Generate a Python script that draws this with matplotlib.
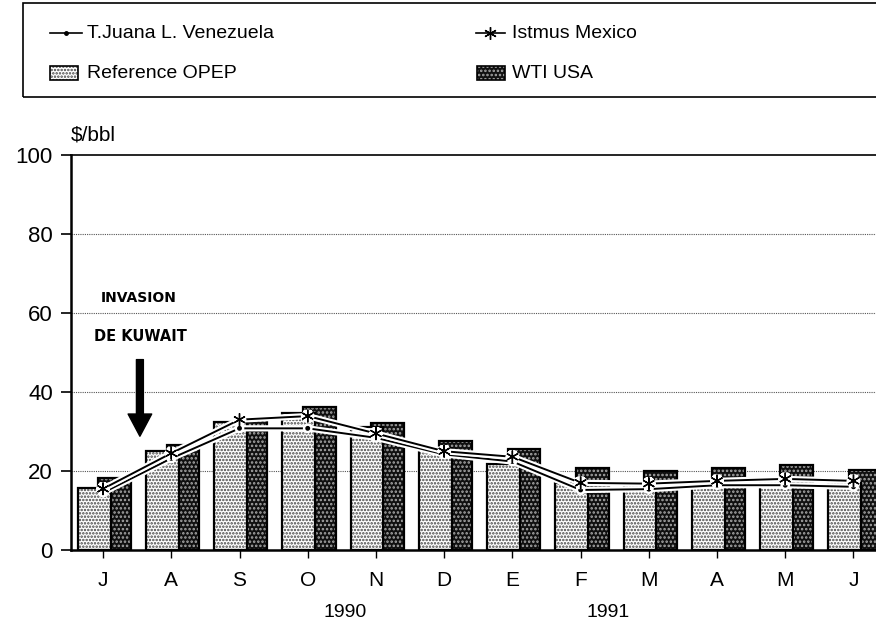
import numpy as np
import matplotlib
matplotlib.use("Agg")
from matplotlib import pyplot as plt
from matplotlib.patches import Rectangle
from matplotlib.lines import Line2D
import matplotlib.patheffects as pe
import matplotlib.transforms as mtransforms

months = ['J', 'A', 'S', 'O', 'N', 'D', 'E', 'F', 'M', 'A', 'M', 'J']
years = ['1990', '1991']
year_pos = [3.55, 7.4]

reference_opep = [15.8, 25.1, 32.4, 34.8, 31.2, 25.9, 21.7, 17.0, 17.0, 17.5, 17.9, 17.2]
wti_usa = [18.3, 26.5, 32.9, 36.2, 32.2, 27.6, 25.5, 20.7, 20.0, 20.8, 21.4, 20.3]
istmus_mexico = [15.5, 24.5, 33.0, 33.9, 29.5, 25.0, 23.6, 17.0, 16.8, 17.5, 18.0, 17.5]
tijuana_venezuela = [14.5, 23.2, 30.8, 30.8, 28.4, 24.2, 22.4, 15.2, 15.4, 16.4, 16.4, 16.0]

plt.rcParams['font.family'] = ['Liberation Sans', 'DejaVu Sans']
plt.rcParams['hatch.linewidth'] = 1.2

W, H = 876, 622
fig = plt.figure(figsize=(W / 100, H / 100), dpi=100)
ax = fig.add_axes([71 / W, 1 - 550 / H, 1 - 71 / W, 395 / H])

x = np.arange(len(months))
bw = 0.48

# WTI behind, OPEP in front
ax.bar(x + 0.17, wti_usa, bw, facecolor='#101010', edgecolor='#a8a8a8',
       hatch='....', linewidth=0, zorder=2)
ax.bar(x + 0.17, wti_usa, bw, fill=False, edgecolor='black', linewidth=1.6, zorder=2.1)
ax.bar(x - 0.13, reference_opep, bw, facecolor='white', edgecolor='#444444',
       hatch='.....', linewidth=0, zorder=3)
ax.bar(x - 0.13, reference_opep, bw, fill=False, edgecolor='black', linewidth=1.6, zorder=3.1)

halo = [pe.withStroke(linewidth=4.5, foreground='white')]
ax.plot(x, tijuana_venezuela, color='black', lw=1.4, marker='.', ms=5,
        path_effects=halo, zorder=5)
ax.plot(x, istmus_mexico, color='black', lw=1.4, marker=(6, 2, 0), ms=9,
        path_effects=halo, zorder=5)

ax.set_xlim(-0.47, 11.33)
ax.set_ylim(0, 100)
ax.set_yticks([0, 20, 40, 60, 80, 100])
ax.set_xticks(x)
ax.set_xticklabels(months)
ax.tick_params(axis='y', direction='out', length=7, width=1.2, pad=6, labelsize=16)
ax.tick_params(axis='x', direction='out', length=6, width=1.0, pad=9, labelsize=15)
for yv in [20, 40, 60, 80]:
    ax.axhline(yv, color='#555555', lw=0.8, ls=(0, (1, 1)), zorder=1)
ax.spines['right'].set_visible(False)
ax.spines['top'].set_linewidth(1.2)
ax.spines['left'].set_linewidth(1.8)
ax.spines['bottom'].set_linewidth(1.8)

trans = mtransforms.blended_transform_factory(ax.transData, ax.transAxes)
for yr, xp in zip(years, year_pos):
    ax.text(xp, -0.157, yr, transform=trans, ha='center', va='center', fontsize=14)

ax.text(0, 1.05, '$/bbl', transform=ax.transAxes, ha='left', va='center', fontsize=15)

ax.text(0.52, 63.8, 'INVASION', ha='center', va='center', fontsize=10,
        fontweight='bold', family='DejaVu Sans', zorder=6)
ax.text(0.55, 54.0, 'DE KUWAIT', ha='center', va='center', fontsize=10.5,
        fontweight='bold', family='DejaVu Sans', zorder=6)
ax.annotate('', xy=(0.54, 28.8), xytext=(0.54, 48.2),
            arrowprops=dict(facecolor='black', edgecolor='black', width=5,
                            headwidth=17, headlength=16), zorder=6)

# legend box drawn by hand, it runs off the right edge
fig.patches.append(Rectangle((23 / W, 1 - 97 / H), 1.0, 94 / H, transform=fig.transFigure,
                             fill=False, edgecolor='black', linewidth=1.2))
r1, r2 = 1 - 33 / H, 1 - 73 / H
fig.lines.append(Line2D([50 / W, 82 / W], [r1, r1], color='black', lw=1.2,
                        transform=fig.transFigure))
fig.lines.append(Line2D([66 / W], [r1], color='black', marker='.', ms=5,
                        transform=fig.transFigure))
fig.text(87 / W, r1, 'T.Juana L. Venezuela', va='center', fontsize=14)
fig.lines.append(Line2D([476 / W, 505 / W], [r1, r1], color='black', lw=1.2,
                        transform=fig.transFigure))
fig.lines.append(Line2D([490 / W], [r1], color='black', marker=(6, 2, 0), ms=9,
                        transform=fig.transFigure))
fig.text(512 / W, r1, 'Istmus Mexico', va='center', fontsize=14)
fig.patches.append(Rectangle((50 / W, r2 - 7 / H), 28 / W, 14 / H, transform=fig.transFigure,
                             facecolor='white', edgecolor='#444444', hatch='.....', linewidth=0))
fig.patches.append(Rectangle((50 / W, r2 - 7 / H), 28 / W, 14 / H, transform=fig.transFigure,
                             fill=False, edgecolor='black', linewidth=1.2))
fig.text(87 / W, r2, 'Reference OPEP', va='center', fontsize=14)
fig.patches.append(Rectangle((477 / W, r2 - 7 / H), 28 / W, 14 / H, transform=fig.transFigure,
                             facecolor='#101010', edgecolor='#a8a8a8', hatch='....', linewidth=0))
fig.patches.append(Rectangle((477 / W, r2 - 7 / H), 28 / W, 14 / H, transform=fig.transFigure,
                             fill=False, edgecolor='black', linewidth=1.2))
fig.text(512 / W, r2, 'WTI USA', va='center', fontsize=14)

fig.savefig('out.png', dpi=100)
